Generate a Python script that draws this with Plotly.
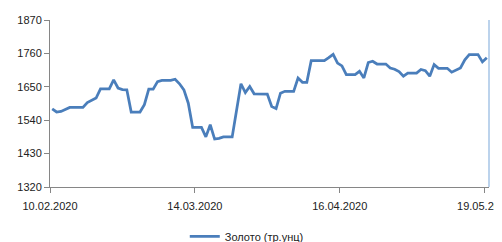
import datetime as dt
import plotly.graph_objects as go

start = dt.datetime(2020, 2, 10)
gold = [
    1577, 1567, 1569, 1575, 1582, 1582, 1582, 1582, 1598, 1606,
    1613, 1643, 1643, 1643, 1673, 1646, 1641, 1640, 1567, 1567,
    1567, 1591, 1642, 1642, 1667, 1671, 1671, 1671, 1675, 1660,
    1640, 1596, 1516, 1516, 1516, 1485, 1525, 1478, 1480, 1485,
    1485, 1485, 1573, 1660, 1631, 1651, 1627, 1627, 1627, 1626,
    1585, 1578, 1629, 1635, 1635, 1635, 1679, 1665, 1665, 1736,
    1736, 1736, 1736, 1746, 1757, 1728, 1719, 1690, 1690, 1690,
    1701, 1679, 1730, 1734, 1725, 1725, 1725, 1712, 1708, 1700,
    1685, 1695, 1695, 1695, 1707, 1703, 1685, 1723, 1711, 1711,
    1711, 1698, 1706, 1712, 1739, 1756, 1756, 1756, 1732, 1746,
]
dates = [start + dt.timedelta(days=i, hours=12) for i in range(len(gold))]

tick_dates = ["2020-02-10", "2020-03-14", "2020-04-16", "2020-05-19"]
tick_labels = ["10.02.2020", "14.03.2020", "16.04.2020", "19.05.2020"]
y_ticks = [1320, 1430, 1540, 1650, 1760, 1870]
series_name = "Золото (тр.унц)"

fig = go.Figure()
fig.add_trace(go.Scatter(
    x=dates, y=gold, mode="lines", name=series_name,
    line=dict(color="#4a7ebb", width=2.75),
))

# the page body has an 8px margin, so the figure is sized to fill the rest of the window
axis_color = "#868686"
fig.update_layout(
    width=494, height=234,
    margin=dict(l=42, r=13, t=12, b=54.5, autoexpand=False),
    paper_bgcolor="white", plot_bgcolor="white",
    font=dict(family="Liberation Sans, Arial, sans-serif", size=11, color="#222222"),
    showlegend=True,
    legend=dict(orientation="h", x=0.307, xanchor="left", y=-0.296, yanchor="middle",
                font=dict(size=11, color="#222222"), bgcolor="rgba(0,0,0,0)",
                itemwidth=30),
)
fig.update_xaxes(
    type="date", range=["2020-02-10", "2020-05-20"],
    tickmode="array", tickvals=tick_dates, ticktext=tick_labels,
    showgrid=False, zeroline=False, automargin=False,
    showline=True, linecolor=axis_color, linewidth=1,
    ticks="outside", ticklen=5, tickcolor=axis_color,
    ticklabeloverflow="allow", ticklabelstandoff=4,
)
fig.update_yaxes(
    range=[1320, 1870], tickmode="array", tickvals=y_ticks,
    showgrid=False, zeroline=False, automargin=False,
    showline=True, linecolor=axis_color, linewidth=1,
    ticks="outside", ticklen=5, tickcolor=axis_color,
)
fig.add_shape(type="line", xref="paper", yref="paper", x0=1, x1=1, y0=0, y1=1,
              line=dict(color="#bcd3ec", width=2))

fig.write_html("out.html")
